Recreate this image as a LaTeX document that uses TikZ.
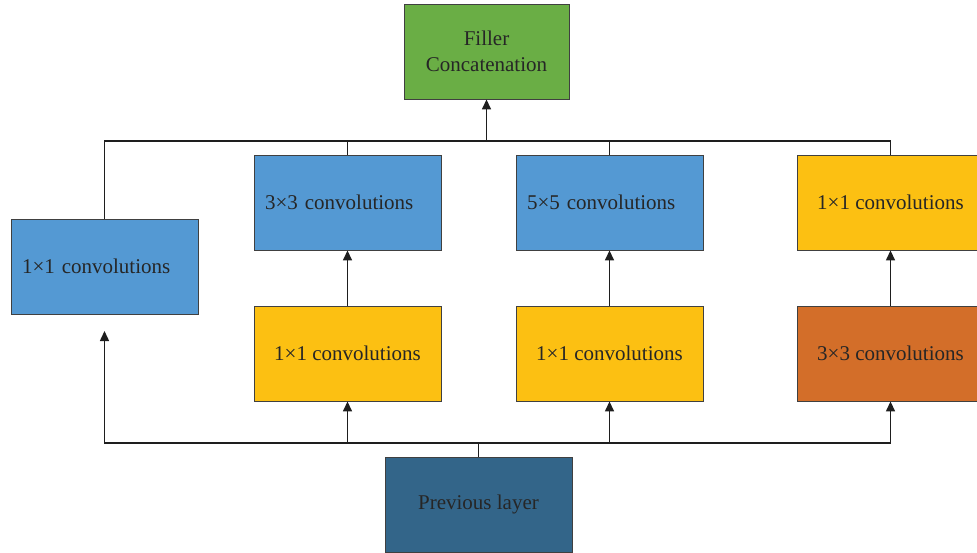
\documentclass[tikz,border=0pt]{standalone}
\usepackage{fontspec}
\setmainfont{Liberation Serif}
\usetikzlibrary{arrows.meta}
\definecolor{cblue}{HTML}{5499D3}
\definecolor{cyellow}{HTML}{FCC012}
\definecolor{corange}{HTML}{D36E29}
\definecolor{cgreen}{HTML}{6AAE45}
\definecolor{cdark}{HTML}{336589}
\definecolor{ctext}{HTML}{262626}
\definecolor{cline}{HTML}{1E1E1E}
\tikzset{
  box/.style={draw=black!75, line width=0.9pt, minimum width=187pt, minimum height=95pt,
    inner sep=0pt, text=ctext, font=\fontsize{21}{26}\selectfont, align=center},
  lbox/.style={box, text width=165pt, align=left},
  conn/.style={draw=cline, line width=1.5pt},
  arr/.style={conn, -{Triangle[width=9pt,length=10pt]}},
}
\begin{document}
\begin{tikzpicture}[x=1pt,y=-1pt]
\useasboundingbox (0,0) rectangle (977,552);
\node[box, fill=cgreen, minimum width=165pt] (filler) at (486.5,51.5) {Filler\\Concatenation};
\node[lbox, fill=cblue] (L1) at (104.5,266.5) {1×1 convolutions};
\node[lbox, fill=cblue] (T3) at (347.5,202.5) {3×3 convolutions};
\node[lbox, fill=cblue] (T5) at (609.5,202.5) {5×5 convolutions};
\node[box, fill=cyellow] (T1) at (890.5,202.5) {1×1 convolutions};
\node[box, fill=cyellow] (M1a) at (347.5,353.5) {1×1 convolutions};
\node[box, fill=cyellow] (M1b) at (609.5,353.5) {1×1 convolutions};
\node[box, fill=corange] (M3) at (890.5,353.5) {3×3 convolutions};
\node[box, fill=cdark] (prev) at (478.5,504.5) {Previous layer};
\coordinate (tb) at (486.5,141);
\coordinate (bb) at (478.5,443);
\coordinate (l1in) at (104.5,331);
% top bus
\draw[conn] (L1.north) |- (tb) -| (T1.north);
\draw[conn] (T3.north) -- (T3.north |- tb);
\draw[conn] (T5.north) -- (T5.north |- tb);
\draw[arr] (tb) -- (filler.south);
% middle arrows
\draw[arr] (M1a.north) -- (T3.south);
\draw[arr] (M1b.north) -- (T5.south);
\draw[arr] (M3.north) -- (T1.south);
% bottom bus
\draw[conn] (prev.north) -- (bb);
\draw[arr] (bb) -| (l1in);
\draw[arr] (bb) -| (M3.south);
\draw[arr] (M1a.south |- bb) -- (M1a.south);
\draw[arr] (M1b.south |- bb) -- (M1b.south);
\end{tikzpicture}
\end{document}
